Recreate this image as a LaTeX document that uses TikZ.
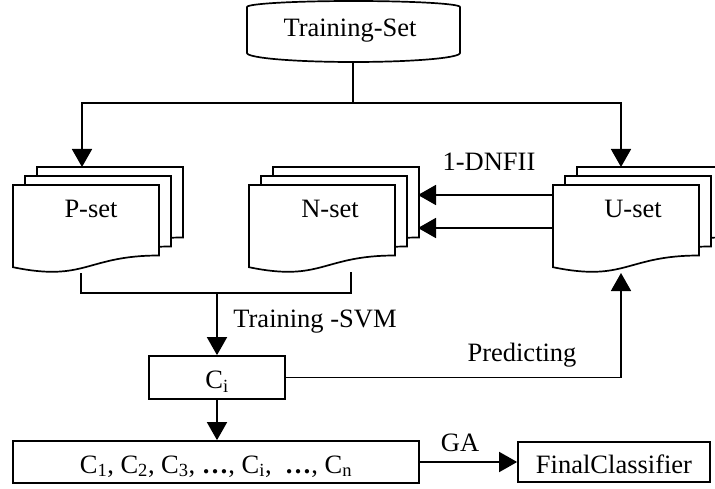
\documentclass[tikz,border=0pt]{standalone}
\usepackage{fontspec}
\setmainfont{Liberation Serif}
\usetikzlibrary{arrows.meta}

\begin{document}
\begin{tikzpicture}[x=1pt, y=-1pt, line width=1.7pt,
    every node/.style={font=\fontsize{26.5}{30}\selectfont, inner sep=0pt},
    arr/.style={-{Triangle[length=18pt,width=20pt]}},
    page/.style={draw, fill=white},
    box/.style={draw, fill=white, text height=22pt, text depth=0pt}]
    \clip (0,0) rectangle (715,489);

    % Training set (disk)
    \draw (247,7) .. controls (247,3.7) and (294.7,1) .. (353.5,1)
        .. controls (412.3,1) and (460,3.7) .. (460,7)
        -- (460,53) .. controls (460,58) and (412.3,62) .. (353.5,62)
        .. controls (294.7,62) and (247,58) .. (247,53) -- cycle;
    \node[anchor=base] (train) at (350,37) {Training-Set};
    \coordinate (tsbot) at (353,62);

    % Document stacks: P, N, U
    \foreach \name/\a/\tx/\txt in {pset/13/91/P-set, nset/249/330/N-set, uset/553/633/U-set} {
        \foreach \d in {24, 12, 0} {
            \begin{scope}[shift={({\a+\d},{185-0.75*\d})}]
                \draw[page] (0,0) -- (146,0) -- (146,70.5)
                    .. controls (73,70.5) and (73,97.3) .. (0,82.2) -- cycle;
            \end{scope}
        }
        \node[anchor=base] (\name) at (\tx,218) {\txt};
    }

    % Classifier boxes
    \node[box, minimum width=136pt, minimum height=43pt] (ci) at (217,377.5) {C\textsubscript{i}};
    \node[box, minimum width=406pt, minimum height=42pt] (list) at (216,462)
        {C\textsubscript{1}, C\textsubscript{2}, C\textsubscript{3}, \textbf{\ldots}, C\textsubscript{i}, \ \textbf{\ldots}, C\textsubscript{n}};
    \node[box, minimum width=192pt, minimum height=40pt] (final) at (614,462) {FinalClassifier};

    % Connector points
    \coordinate (split) at (353,103);
    \coordinate (ptop) at (82,167);
    \coordinate (utop) at (621,167);
    \coordinate (uin1) at (553,195);
    \coordinate (nin1) at (418,195);
    \coordinate (uin2) at (553,228);
    \coordinate (nin2) at (418,228);
    \coordinate (pbot) at (81,273);
    \coordinate (nbot) at (351,272);
    \coordinate (merge) at (217,293);
    \coordinate (ubot) at (621,273);

    % Connectors
    \draw (tsbot) -- (split);
    \draw[arr] (split) -| (ptop);
    \draw[arr] (split) -| (utop);
    \draw[arr] (uin1) -- (nin1);
    \draw[arr] (uin2) -- (nin2);
    \draw (pbot) |- (merge) -| (nbot);
    \draw[arr] (merge) -- (ci);
    \draw[arr] (ci) -| (ubot);
    \draw[arr] (ci) -- (ci |- list.north);
    \draw[arr] (list) -- (final);

    % Labels
    \node[anchor=base] (dnf) at (489,171) {1-DNFII};
    \node[anchor=base] (svm) at (315,327) {Training -SVM};
    \node[anchor=base] (pred) at (522,361) {Predicting};
    \node[anchor=base] (ga) at (460,451) {GA};

\end{tikzpicture}
\end{document}
